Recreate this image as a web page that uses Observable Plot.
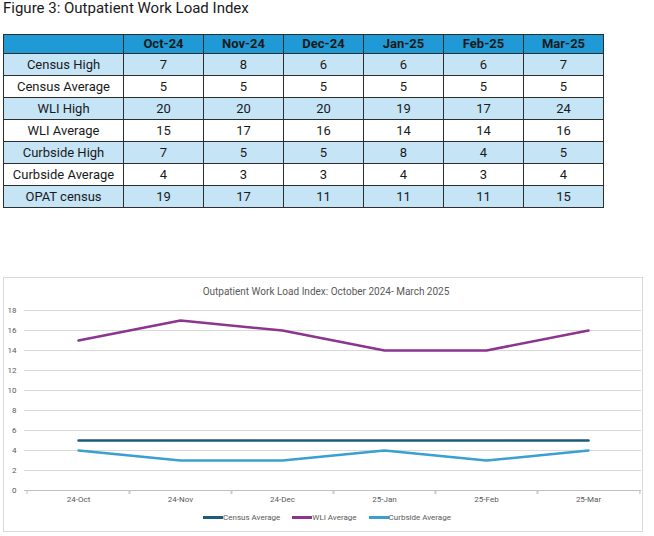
<!DOCTYPE html>
<html>
<head>
<meta charset="utf-8">
<script src="https://cdn.jsdelivr.net/npm/d3@7"></script>
<script src="https://cdn.jsdelivr.net/npm/@observablehq/plot@0.6"></script>
<style>
  body { margin: 0; background: #fff; font-family: Roboto, "Open Sans", sans-serif; width: 654px; height: 536px; overflow: hidden; position: relative; }
  #fig-title { position: absolute; left: 3px; top: 0px; font-size: 15px; line-height: 16px; color: #1a1a1a; white-space: nowrap; }
  #table { position: absolute; left: 3px; top: 34px; border-collapse: collapse; table-layout: fixed; width: 600px; }
  #table td, #table th { border: 1.5px solid #2d2d2d; text-align: center; font-size: 13px; color: #1a1a1a; padding: 0; white-space: nowrap; }
  #table th { background: #1f9ad6; font-weight: bold; height: 18px; line-height: 18px; }
  #table td { height: 21px; line-height: 21px; }
  #table tr.shade td { background: #c5e4f6; }
  #chart-box { position: absolute; left: 3px; top: 277px; width: 640px; height: 255px; border: 1px solid #d9d9d9; box-sizing: border-box; }
  #chart-title { position: absolute; left: 0; width: 652px; top: 286px; text-align: center; font-size: 10px; color: #595959; }
  #chart { position: absolute; left: 0; top: 300px; }
  #legend { position: absolute; left: 0; width: 654px; top: 513px; display: flex; justify-content: center; gap: 12px; font-size: 8px; color: #595959; }
  #legend .item { display: flex; align-items: center; }
  #legend .sw { width: 20px; height: 3px; }
</style>
</head>
<body>
<div id="fig-title">Figure 3: Outpatient Work Load Index</div>
<table id="table"></table>
<div id="chart-box"></div>
<div id="chart-title">Outpatient Work Load Index: October 2024- March 2025</div>
<div id="chart"></div>
<div id="legend"></div>
<script>
// Monthly columns of the table and the matching category labels on the chart axis
const months = ["Oct-24", "Nov-24", "Dec-24", "Jan-25", "Feb-25", "Mar-25"];
const axisLabels = ["24-Oct", "24-Nov", "24-Dec", "25-Jan", "25-Feb", "25-Mar"];

// Table rows
const censusHigh = [7, 8, 6, 6, 6, 7];
const censusAverage = [5, 5, 5, 5, 5, 5];
const wliHigh = [20, 20, 20, 19, 17, 24];
const wliAverage = [15, 17, 16, 14, 14, 16];
const curbsideHigh = [7, 5, 5, 8, 4, 5];
const curbsideAverage = [4, 3, 3, 4, 3, 4];
const opatCensus = [19, 17, 11, 11, 11, 15];

const rowNames = ["Census High", "Census Average", "WLI High", "WLI Average", "Curbside High", "Curbside Average", "OPAT census"];
const rowValues = [censusHigh, censusAverage, wliHigh, wliAverage, curbsideHigh, curbsideAverage, opatCensus];

// Series plotted on the line chart
const seriesNames = ["Census Average", "WLI Average", "Curbside Average"];
const seriesValues = [censusAverage, wliAverage, curbsideAverage];
const seriesColors = ["#1d5a7b", "#8b358f", "#3a9fd2"];

const yTicks = [0, 2, 4, 6, 8, 10, 12, 14, 16, 18];

// ---- Table ----
const table = document.getElementById("table");
const colgroup = document.createElement("colgroup");
colgroup.innerHTML = `<col style="width:120px">` + months.map(() => `<col style="width:80px">`).join("");
table.appendChild(colgroup);
const head = document.createElement("tr");
head.innerHTML = `<th></th>` + months.map(m => `<th>${m}</th>`).join("");
table.appendChild(head);
rowNames.forEach((name, r) => {
  const tr = document.createElement("tr");
  if (r % 2 === 0) tr.className = "shade";
  tr.innerHTML = `<td>${name}</td>` + rowValues[r].map(v => `<td>${v}</td>`).join("");
  table.appendChild(tr);
});

// ---- Line chart ----
const rows = seriesNames.flatMap((name, s) =>
  axisLabels.map((m, i) => ({series: name, month: m, value: seriesValues[s][i]}))
);

const W = 654, mL = 24, mR = 13;
const bw = (W - mL - mR) / axisLabels.length;
const axisGrey = "#bfbfbf";

const chart = Plot.plot({
  width: W,
  height: 210,
  marginTop: 10,
  marginBottom: 20,
  marginLeft: mL,
  marginRight: mR,
  style: {fontFamily: "Roboto, sans-serif", fontSize: "8px", color: "#595959", background: "transparent"},
  x: {type: "band", domain: axisLabels, padding: 0, label: null},
  y: {domain: [0, 18], label: null},
  color: {domain: seriesNames, range: seriesColors},
  marks: [
    Plot.gridY(yTicks.filter(t => t > 0), {stroke: "#d9d9d9", strokeOpacity: 1}),
    Plot.ruleY([0], {stroke: axisGrey}),
    Plot.axisY({ticks: yTicks, tickSize: 0, tickPadding: 8, label: null, fill: "#595959"}),
    Plot.axisX({tickSize: 4, tickFormat: () => "", dx: -bw / 2, stroke: axisGrey, label: null}),
    Plot.axisX({tickSize: 4, tickFormat: () => "", dx: bw / 2, stroke: axisGrey, label: null}),
    Plot.axisX({tickSize: 0, tickPadding: 6, label: null, fill: "#595959"}),
    Plot.line(rows, {x: "month", y: "value", z: "series", stroke: "series", strokeWidth: 2.5})
  ]
});
document.getElementById("chart").appendChild(chart);

// ---- Legend ----
const legend = document.getElementById("legend");
seriesNames.forEach((name, i) => {
  const item = document.createElement("div");
  item.className = "item";
  item.innerHTML = `<span class="sw" style="background:${seriesColors[i]}"></span><span>${name}</span>`;
  legend.appendChild(item);
});
</script>
</body>
</html>
